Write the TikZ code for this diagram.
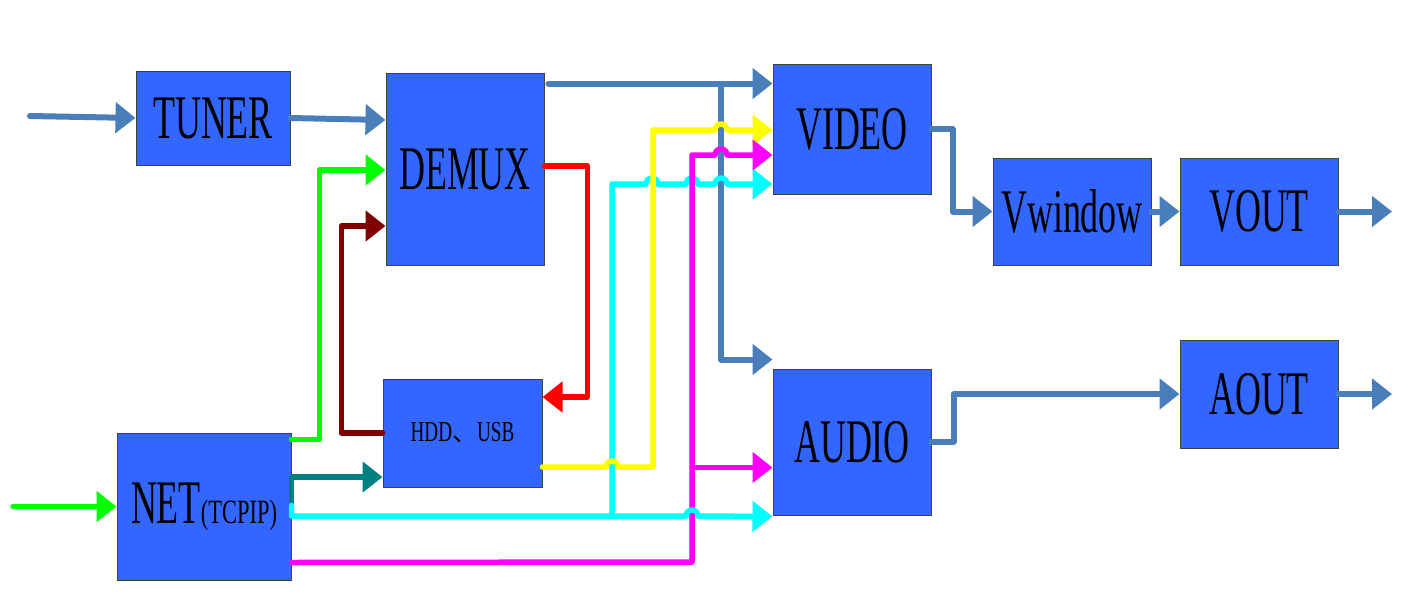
\documentclass[tikz,border=0pt]{standalone}
\usepackage{fontspec}
\setmainfont{Liberation Serif}
\newfontfamily\condA[FakeStretch=0.58]{Liberation Serif}
\newfontfamily\condB[FakeStretch=0.66]{Liberation Serif}
\newfontfamily\cjkfont{Noto Sans CJK SC}
\usetikzlibrary{arrows.meta,calc}
\definecolor{boxfill}{RGB}{51,102,255}
\definecolor{lineblue}{RGB}{74,126,187}
\definecolor{cteal}{RGB}{0,128,128}
\definecolor{cmaroon}{RGB}{128,0,0}
\definecolor{cgreen}{RGB}{0,255,0}
\definecolor{cred}{RGB}{255,0,0}
\definecolor{cyel}{RGB}{255,255,0}
\definecolor{cmag}{RGB}{255,0,255}
\definecolor{ccyan}{RGB}{0,255,255}
\tikzset{
  blk/.style={draw=black!75, line width=1pt, fill=boxfill, inner sep=0pt,
    font=\condA\fontsize{62}{62}\selectfont},
  conn/.style={line width=5.5pt, line cap=round, line join=round},
  arr/.style={-{Triangle[length=20pt,width=30pt]}},
  bl/.style={conn, draw=lineblue, line width=6pt},
}
\begin{document}
\begin{tikzpicture}[x=1pt,y=-1pt]
\useasboundingbox (0,0) rectangle (1417,603);
% boxes
\node[blk, minimum width=154pt, minimum height=94pt] (tuner) at (213,118) {TUNER};
\node[blk, minimum width=158pt, minimum height=192pt] (demux) at (465,169) {DEMUX};
\node[blk, minimum width=159pt, minimum height=108pt] (hdd) at (462.5,433)
  {\condB\fontsize{29}{29}\selectfont HDD{\cjkfont\fontsize{25}{25}\selectfont 、}USB};
\node[blk, minimum width=174pt, minimum height=147pt] (net) at (204,506.5)
  {NET{\condB\fontsize{34}{34}\selectfont (TCPIP)}};
\node[blk, minimum width=158pt, minimum height=130pt] (video) at (852,129) {VIDEO};
\node[blk, minimum width=158pt, minimum height=146pt] (audio) at (852,442) {AUDIO};
\node[blk, minimum width=158pt, minimum height=107pt] (vwin) at (1072,211.5) {Vwindow};
\node[blk, minimum width=158pt, minimum height=107pt] (vout) at (1259,211.5) {VOUT};
\node[blk, minimum width=158pt, minimum height=108pt] (aout) at (1259,394) {AOUT};
% blue connectors
\coordinate (inT) at (30,116);
\draw[bl,arr] (inT) -- (tuner.west);
\draw[bl,arr] (tuner.east) -- ($(demux.west |- tuner.east)+(0,2)$);
\coordinate (dv) at ($(demux.north east)+(4,11)$);
\draw[bl,arr] (dv) -- (video.west |- dv);
\coordinate (j1) at (721,84);
\draw[bl,arr] (j1) |- ($(audio.north west)+(0,-9)$);
\draw[bl,arr] (video.east) -- ++(21,0) |- (vwin.west);
\draw[bl,arr] (vwin.east) -- (vout.west);
\coordinate (vo) at (1392,211.5);
\draw[bl,arr] (vout.east) -- (vo);
\draw[bl,arr] (audio.east) -- ++(22,0) |- (aout.west);
\coordinate (ao) at (1392,394);
\draw[bl,arr] (aout.east) -- (ao);
% coloured connectors
\coordinate (inN) at (13,506.5);
\draw[conn,cgreen,arr] (inN) -- (net.west);
\draw[conn,cgreen,arr] ($(net.north east)+(0,7)$) -- ++(28,0) |- ($(demux.west)+(0,1)$);
\draw[conn,cmaroon,arr] (hdd.west) -- ++(-41,0) |- ($(demux.west)+(0,57)$);
\draw[conn,cred,arr] ($(demux.east)+(0,-3)$) -- ++(43,0) |- ($(hdd.east)+(0,-36)$);
\draw[conn,cteal,arr] ($(net.east)+(0,-3)$) |- ($(hdd.west)+(0,44)$);
% cyan
\coordinate (cj) at (612,516);
\draw[conn,ccyan,arr] (cj) -- (612,184) -- (646,184) arc(180:360:6) -- (686,184) arc(180:360:6)
  -- (715,184) arc(180:360:6) -- ($(video.west)+(0,55)$);
% yellow
\draw[conn,cyel,arr] ($(hdd.east)+(0,34)$) -- (606,467) arc(180:360:6) -- (653,467) -- (653,130)
  -- (715,130) arc(180:360:6) -- ($(video.west)+(0,1)$);
% magenta
\draw[conn,cmag,arr] ($(net.south east)+(0,-18)$) -- (692,562) -- (692,155)
  -- (715,155) arc(180:360:6) -- ($(video.west)+(0,26)$);
\coordinate (mj) at (692,467.5);
\draw[conn,cmag,arr] (mj) -- ($(audio.west)+(0,25.5)$);
% cyan main (hops over magenta)
\draw[conn,ccyan,arr] ($(net.east)+(0,-1)$) |- (686,516) arc(180:360:6) -- ($(audio.south west)+(0,1)$);
\end{tikzpicture}
\end{document}
